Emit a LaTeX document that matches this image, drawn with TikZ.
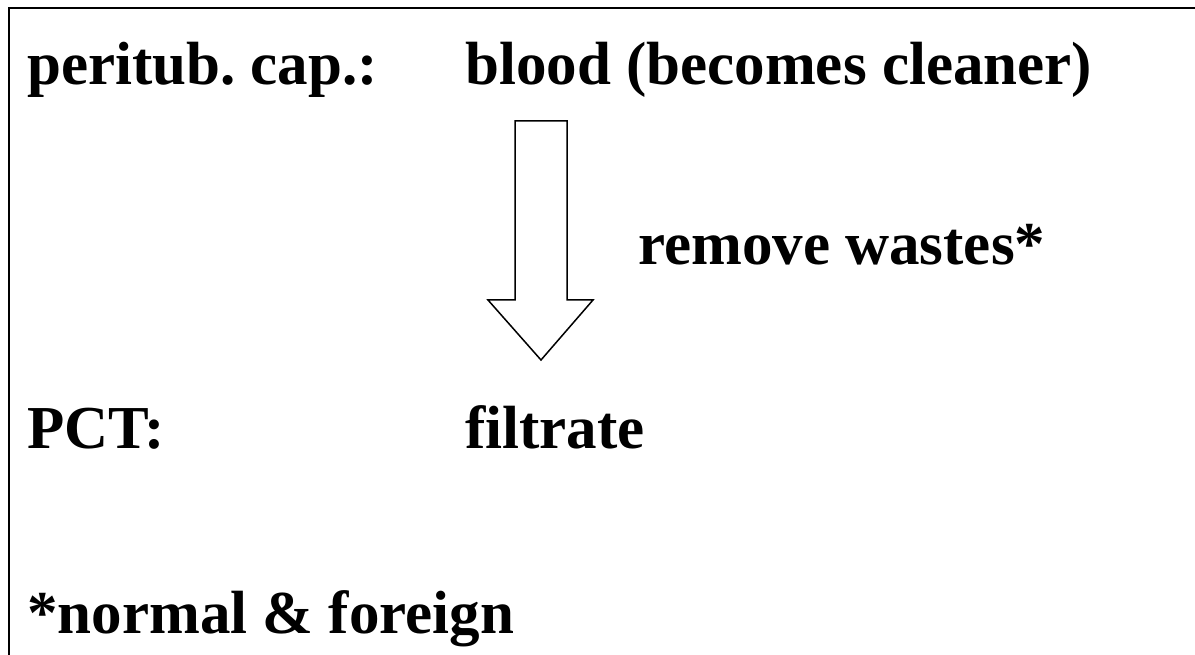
\documentclass[tikz,border=0pt]{standalone}
\usepackage{fontspec}
\setmainfont{Liberation Serif}
\frenchspacing

\begin{document}
\begin{tikzpicture}
  [x=1pt,y=-1pt,every node/.style={anchor=base west,inner sep=0pt,
   font=\fontsize{61}{72}\selectfont\bfseries}]
  \useasboundingbox (0,0) rectangle (1195,655);
  \draw[line width=2pt] (9,655) -- (9,8) -- (1195,8);

  \node (ncap) at (27,85)  {peritub. cap.:};
  \node (nblood) at (465,85) {blood (becomes cleaner)};
  \node (nrem) at (638,265) {remove wastes*};
  \node (npct) at (27,448) {PCT:};
  \node (nfil) at (465,448) {filtrate};
  \node (nnote) at (27,633) {*normal \& foreign};

  \draw[line width=1.5pt,line join=miter]
    (515,121) -- (567,121) -- (567,300) -- (593,300) -- (541,360)
    -- (488,300) -- (515,300) -- cycle;

\end{tikzpicture}
\end{document}
